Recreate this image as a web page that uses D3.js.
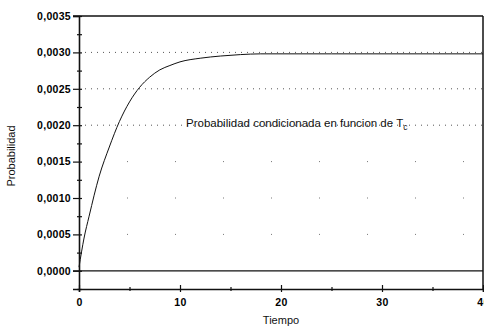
<!DOCTYPE html>
<html>
<head>
<meta charset="utf-8">
<script src="https://cdn.jsdelivr.net/npm/d3@7"></script>
<style>
  body { margin: 0; background: #fff; }
  svg { display: block; font-family: "Liberation Sans", Arial, sans-serif; }
</style>
</head>
<body>
<svg id="chart" width="484" height="327"></svg>
<script>
// values
const tiempo = [0, 0.5, 1, 2, 3, 4, 5, 6, 7, 8, 9, 10, 12, 14, 16, 18, 20, 25, 30, 35, 40];
const probabilidad = [0.00005, 0.00045, 0.00075, 0.0013, 0.0017, 0.00205, 0.00232, 0.00252, 0.00266,
  0.00276, 0.00282, 0.00287, 0.00292, 0.00295, 0.00297, 0.00298, 0.00298, 0.00298, 0.00298, 0.00298, 0.00298];
const xTicks = [0, 10, 20, 30, 40];
const xMinor = [5, 15, 25, 35];
const yTicks = [0, 0.0005, 0.001, 0.0015, 0.002, 0.0025, 0.003, 0.0035];
const yMinor = [-0.00025, 0.00025, 0.00075, 0.00125, 0.00175, 0.00225, 0.00275, 0.00325];
const gridDense = [0.002, 0.0025, 0.003];
const gridSparse = [0.0005, 0.001, 0.0015];

const svg = d3.select("#chart");
const x = d3.scaleLinear().domain([0, 40]).range([79, 483]);
const y = d3.scaleLinear().domain([-0.00025, 0.0035]).range([289, 16]);
const fmt = d => d3.format(".4f")(d).replace(".", ",");

// dotted grid lines (faint, like the scan)
svg.selectAll(".gd").data(gridDense).enter().append("line")
  .attr("x1", x(0)).attr("x2", x(40))
  .attr("y1", d => y(d)).attr("y2", d => y(d))
  .attr("stroke", "#555").attr("stroke-width", 1)
  .attr("stroke-dasharray", "1,5");
svg.selectAll(".gs").data(gridSparse).enter().append("line")
  .attr("x1", x(0)).attr("x2", x(40))
  .attr("y1", d => y(d)).attr("y2", d => y(d))
  .attr("stroke", "#777").attr("stroke-width", 1)
  .attr("stroke-dasharray", "1,47");

// zero line, top and right frame
svg.append("line").attr("x1", 73).attr("x2", x(40))
  .attr("y1", y(0)).attr("y2", y(0))
  .attr("stroke", "#111").attr("stroke-width", 1.2);
svg.append("line").attr("x1", 73).attr("x2", x(40))
  .attr("y1", y(0.0035)).attr("y2", y(0.0035))
  .attr("stroke", "#111").attr("stroke-width", 1.3);
svg.append("line").attr("x1", x(40)).attr("x2", x(40))
  .attr("y1", y(0.0035)).attr("y2", y(-0.00025))
  .attr("stroke", "#111").attr("stroke-width", 1.5);

// axes
const yAxis = svg.append("g").attr("transform", `translate(${x(0)},0)`)
  .call(d3.axisLeft(y).tickValues(yTicks).tickFormat(fmt).tickSize(6).tickPadding(2));
yAxis.selectAll(".tick line").attr("x2", -6).attr("x1", 3);
const yAxisMinor = svg.append("g").attr("transform", `translate(${x(0)},0)`)
  .call(d3.axisLeft(y).tickValues(yMinor).tickFormat("").tickSize(2));
yAxisMinor.selectAll(".tick line").attr("x1", 3);

const xAxis = svg.append("g").attr("transform", `translate(0,${y(-0.00025)})`)
  .call(d3.axisBottom(x).tickValues(xTicks).tickFormat(d3.format("d")).tickSize(3).tickPadding(7));
xAxis.selectAll(".tick line").attr("y1", -4);
const xAxisMinor = svg.append("g").attr("transform", `translate(0,${y(-0.00025)})`)
  .call(d3.axisBottom(x).tickValues(xMinor).tickFormat("").tickSize(2));
xAxisMinor.selectAll(".tick line").attr("y1", -2);

svg.selectAll(".domain").attr("stroke", "#111").attr("stroke-width", 1.6);
svg.selectAll(".tick line").attr("stroke", "#111").attr("stroke-width", 1.2);
svg.selectAll(".tick text").attr("fill", "#000").attr("font-size", 10.5)
  .attr("font-weight", "bold").attr("letter-spacing", 0.3)
  .attr("font-family", "'Liberation Sans', Arial, sans-serif");
xAxisMinor.select(".domain").remove();
yAxisMinor.select(".domain").remove();

// curve
svg.append("path")
  .datum(tiempo.map((t, i) => [t, probabilidad[i]]))
  .attr("fill", "none").attr("stroke", "#111").attr("stroke-width", 1)
  .attr("d", d3.line().x(d => x(d[0])).y(d => y(d[1])).curve(d3.curveMonotoneX));

// annotation
const ann = svg.append("text").attr("x", 186).attr("y", 127)
  .attr("font-size", 11.5).attr("fill", "#111");
ann.append("tspan").text("Probabilidad condicionada en funcion de T");
ann.append("tspan").attr("font-size", 8.5).attr("dy", 3).text("c");

// axis titles
svg.append("text").attr("x", x(20)).attr("y", 324).attr("text-anchor", "middle")
  .attr("font-size", 11).attr("fill", "#111").text("Tiempo");
svg.append("text").attr("transform", "translate(15,156) rotate(-90)")
  .attr("text-anchor", "middle").attr("font-size", 11).attr("fill", "#111").text("Probabilidad");
</script>
</body>
</html>
